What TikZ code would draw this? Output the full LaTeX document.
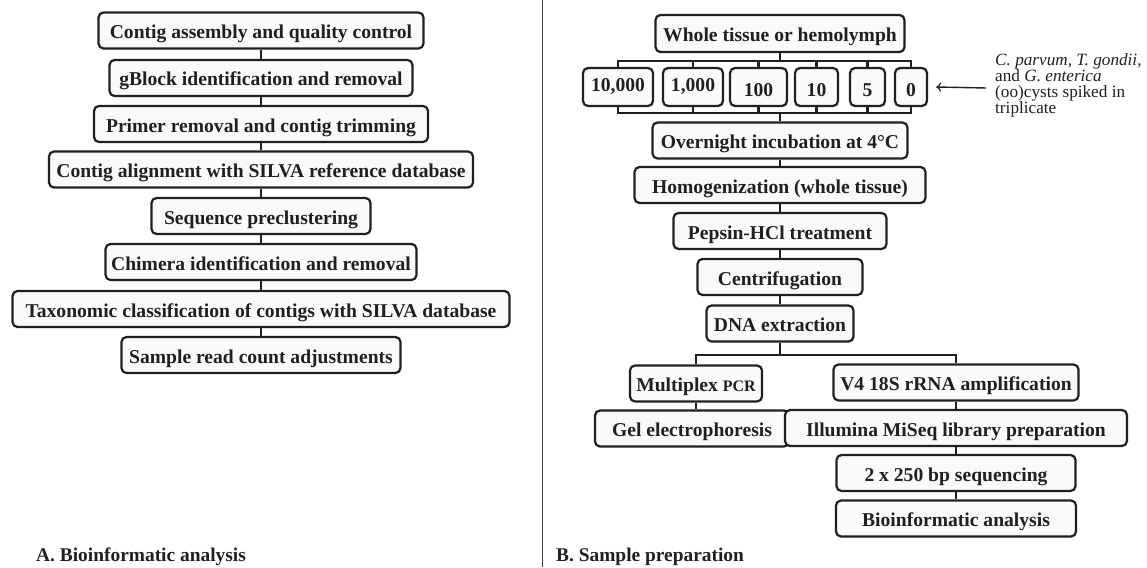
\documentclass[tikz,border=0pt]{standalone}
\usepackage{fontspec}
\setmainfont{Liberation Serif}
\usetikzlibrary{arrows.meta}
\definecolor{inkc}{HTML}{231F20}
\definecolor{boxfill}{HTML}{FAFAFA}
\tikzset{
  stepbox/.style={draw=inkc, line width=2.2pt, rounded corners=5pt, fill=boxfill,
    minimum height=36pt, inner sep=0pt, text=inkc, text height=17pt, text depth=1pt,
    font=\fontsize{19.6}{20}\selectfont\bfseries},
  numbox/.style={stepbox, minimum height=38pt, text height=18pt, text depth=0pt},
  numboxc/.style={numbox, text height=14pt, text depth=4.6pt},
  link/.style={draw=inkc, line width=2.6pt},
  paneltitle/.style={font=\fontsize{19.4}{20}\selectfont\bfseries, text=inkc, inner sep=0pt, anchor=base west},
  note/.style={font=\fontsize{17.2}{16}\selectfont, text=inkc, align=left, inner sep=0pt, anchor=west}
}
\begin{document}
\begin{tikzpicture}[x=1pt,y=-1pt]
\useasboundingbox (0,0) rectangle (1147,567);
% divider
\draw[black!75, line width=0.8pt] (542,0) -- (542,567);

% ---------- Panel A ----------
\node[stepbox, minimum width=325pt] (a1) at (261,30.5) {Contig assembly and quality control};
\node[stepbox, minimum width=303pt] (a2) at (261,78) {gBlock identification and removal};
\node[stepbox, minimum width=334pt] (a3) at (261,124) {Primer removal and contig trimming};
\node[stepbox, minimum width=424pt] (a4) at (261,169.5) {Contig alignment with SILVA reference database};
\node[stepbox, minimum width=219pt] (a5) at (261,216) {Sequence preclustering};
\node[stepbox, minimum width=311pt] (a6) at (261,262) {Chimera identification and removal};
\node[stepbox, minimum width=497pt] (a7) at (261,309) {Taxonomic classification of contigs with SILVA database};
\node[stepbox, minimum width=279pt] (a8) at (261,355) {Sample read count adjustments};
\foreach \u/\v in {a1/a2,a2/a3,a3/a4,a4/a5,a5/a6,a6/a7,a7/a8}
  \draw[link] (\u) -- (\v);
\node[paneltitle] (ta) at (36,561) {A. Bioinformatic analysis};

% ---------- Panel B ----------
\node[stepbox, minimum width=249pt, minimum height=37pt] (b1) at (780,33.5) {Whole tissue or hemolymph};
\node[numboxc, minimum width=70pt] (n1) at (618,87) {10,000};
\node[numboxc, minimum width=60pt] (n2) at (693,87) {1,000};
\node[numbox, minimum width=57pt] (n3) at (758.5,87) {100};
\node[numbox, minimum width=43pt] (n4) at (816.5,87) {10};
\node[numbox, minimum width=35pt] (n5) at (867.5,87) {5};
\node[numbox, minimum width=32pt] (n6) at (911,87) {0};
\node[stepbox, minimum width=255pt] (b2) at (780,140.5) {Overnight incubation at 4°C};
\node[stepbox, minimum width=291pt] (b3) at (780,185) {Homogenization (whole tissue)};
\node[stepbox, minimum width=213pt] (b4) at (780,231) {Pepsin-HCl treatment};
\node[stepbox, minimum width=165pt] (b5) at (780,277) {Centrifugation};
\node[stepbox, minimum width=147pt] (b6) at (780,323.5) {DNA extraction};
\node[stepbox, minimum width=132pt] (c1) at (696,383.5) {Multiplex {\fontsize{16}{16}\selectfont PCR}};
\node[stepbox, minimum width=194pt] (c2) at (692,428.5) {Gel electrophoresis};
\node[stepbox, minimum width=245pt] (d1) at (956,382.5) {V4 18S rRNA amplification};
\node[stepbox, minimum width=342pt] (d2) at (956,428) {Illumina MiSeq library preparation};
\node[stepbox, minimum width=239pt] (d3) at (956,473) {2 x 250 bp sequencing};
\node[stepbox, minimum width=240pt] (d4) at (956,518.5) {Bioinformatic analysis};

% top bus
\coordinate (tb) at (780,61);
\draw[link] (b1) -- (tb);
\draw[link] (n1.north) -- (n1.north |- tb) -- (n6.north |- tb) -- (n6.north);
\foreach \n in {n2,n3,n4,n5}
  \draw[link] (\n.north) -- (\n.north |- tb);
% bottom bus
\coordinate (bt) at (780,113);
\draw[link] (b2) -- (bt);
\draw[link] (n1.south) -- (n1.south |- bt) -- (n6.south |- bt) -- (n6.south);
\foreach \n in {n2,n3,n4,n5}
  \draw[link] (\n.south) -- (\n.south |- bt);
% main chain
\foreach \u/\v in {b2/b3,b3/b4,b4/b5,b5/b6}
  \draw[link] (\u) -- (\v);
% branch
\coordinate (br) at (780,355);
\draw[link] (b6) -- (br);
\draw[link] (c1.north) -- (c1.north |- br) -- (d1.north |- br) -- (d1.north);
\draw[link] (c1.south) -- (c1.south |- c2.north);
\foreach \u/\v in {d1/d2,d2/d3,d3/d4}
  \draw[link] (\u) -- (\v);

% annotation
\node[note] (note) at (995,85) {\textit{C. parvum, T. gondii,}\\and \textit{G. enterica}\\(oo)cysts spiked in\\triplicate};
\coordinate (tail) at (986,88);
\draw[draw=inkc, line width=1.4pt, -{To[length=5pt,width=9pt,line width=1.2pt]}] (tail) -- ([xshift=8pt]n6.east);

\node[paneltitle] (tb2) at (556,561) {B. Sample preparation};
\end{tikzpicture}
\end{document}
